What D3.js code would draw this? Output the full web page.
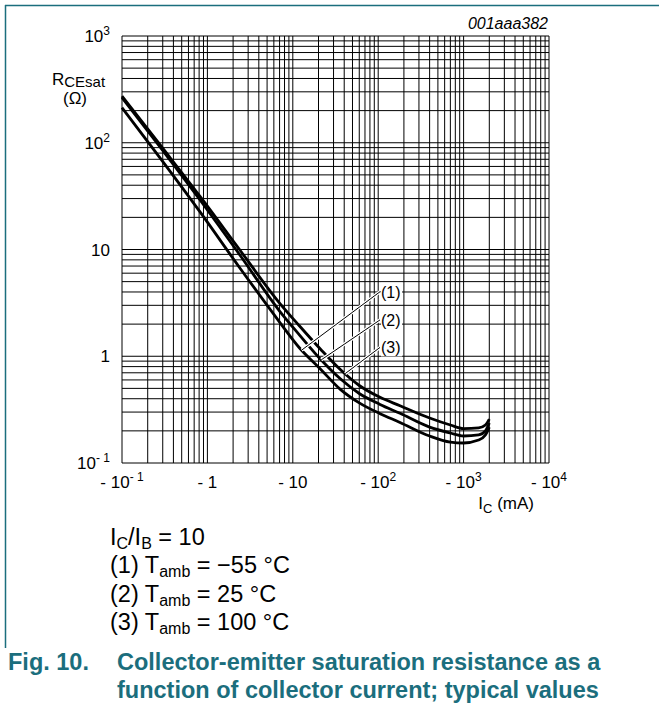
<!DOCTYPE html>
<html><head><meta charset="utf-8">
<script src="https://cdn.jsdelivr.net/npm/d3@7"></script>
<style>body{margin:0;background:#fff} svg{display:block} text{font-family:"Liberation Sans",Arial,sans-serif}</style>
</head><body><svg id="c" width="659" height="713"></svg>
<script>
// ---- data ----
const currents = [0.1, 0.28, 0.82, 2.4, 7, 12, 21, 36, 60, 105, 180, 400, 700, 1000, 1500, 1800, 2000];
const rNeg55 = [213, 71.9, 22.5, 6.71, 2.09, 1.195, 0.76, 0.49, 0.366, 0.29, 0.24, 0.179, 0.157, 0.154, 0.164, 0.183, 0.217];
const r25    = [265, 91.2, 29.1, 8.88, 2.65, 1.58, 0.942, 0.615, 0.448, 0.354, 0.292, 0.217, 0.191, 0.179, 0.183, 0.200, 0.237];
const r100   = [274, 95.3, 31.4, 9.89, 3.15, 1.92, 1.17, 0.750, 0.532, 0.412, 0.344, 0.264, 0.227, 0.210, 0.213, 0.227, 0.258];
const seriesNames = ["(1)", "(2)", "(3)"];
const labelTargetI = [12.7, 21.5, 41];
const labelAnchorI = 105;
const labelAnchorR = [4.02, 2.19, 1.21];
const xTickValues = [0.1, 1, 10, 100, 1000, 10000];
const xTickBase = ["- 10", "- 1", "- 10", "- 10", "- 10", "- 10"];
const xTickExp = ["- 1", "", "", "2", "3", "4"];
const yTickValues = [0.1, 1, 10, 100, 1000];
const yTickBase = ["10", "1", "10", "10", "10"];
const yTickExp = ["- 1", "", "", "2", "3"];
const legendTemps = ["\u221255 \u00B0C", "25 \u00B0C", "100 \u00B0C"];
const captionLines = ["Collector-emitter saturation resistance as a", "function of collector current; typical values"];

// ---- setup ----
const svg = d3.select("#c");
const teal = "#1b6e7d";
const x = d3.scaleLog().domain([0.1, 1e4]).range([122, 549]);
const y = d3.scaleLog().domain([0.1, 1000]).range([463, 36]);

function rich(g, px, py, segs, size, anchor) {
  const t = g.append("text").attr("x", px).attr("y", py).attr("font-size", size).attr("text-anchor", anchor || "start");
  let cur = 0;
  segs.forEach(s => {
    const sh = s.shift || 0;
    const ts = t.append("tspan").attr("dy", sh - cur).text(s.t);
    if (s.size) ts.attr("font-size", s.size);
    cur = sh;
  });
  return t;
}

// page frame
svg.append("line").attr("x1", 5).attr("x2", 659).attr("y1", 5.5).attr("y2", 5.5).attr("stroke", teal).attr("stroke-width", 1.5);
svg.append("line").attr("x1", 5.5).attr("x2", 5.5).attr("y1", 5).attr("y2", 648).attr("stroke", teal).attr("stroke-width", 1.5);

// grid
const xGrid = [], yGrid = [];
for (let e = -1; e <= 3; e++) for (let k = 1; k <= 9; k++) xGrid.push(k * Math.pow(10, e));
xGrid.push(1e4);
for (let e = -1; e <= 2; e++) for (let k = 1; k <= 9; k++) yGrid.push(k * Math.pow(10, e));
yGrid.push(1000);
const grid = svg.append("g").attr("stroke", "#000").attr("stroke-width", 1);
grid.selectAll(".vx").data(xGrid).join("line").attr("x1", d => x(d)).attr("x2", d => x(d)).attr("y1", y(1000)).attr("y2", y(0.1));
grid.selectAll(".hy").data(yGrid).join("line").attr("y1", d => y(d)).attr("y2", d => y(d)).attr("x1", x(0.1)).attr("x2", x(1e4));

// curves
const series = [rNeg55, r25, r100];
const line = d3.line().x(d => x(d[0])).y(d => y(d[1])).curve(d3.curveMonotoneX);
series.forEach(s => {
  svg.append("path").attr("d", line(currents.map((c, i) => [c, s[i]])))
    .attr("fill", "none").attr("stroke", "#000").attr("stroke-width", 2.8).attr("stroke-linejoin", "round");
});

function interpR(s, I) {
  const li = Math.log10(I);
  for (let i = 0; i < currents.length - 1; i++) {
    const a = Math.log10(currents[i]), b = Math.log10(currents[i + 1]);
    if (li >= a && li <= b) {
      const f = (li - a) / (b - a);
      return Math.pow(10, Math.log10(s[i]) + f * (Math.log10(s[i + 1]) - Math.log10(s[i])));
    }
  }
  return s[s.length - 1];
}

// leaders
const lab = svg.append("g");
series.forEach((s, i) => {
  const x1 = x(labelAnchorI), y1 = y(labelAnchorR[i]);
  const x2 = x(labelTargetI[i]), y2 = y(interpR(s, labelTargetI[i]));
  lab.append("line").attr("x1", x1).attr("y1", y1).attr("x2", x2).attr("y2", y2).attr("stroke", "#fff").attr("stroke-width", 3.2);
  lab.append("line").attr("x1", x1).attr("y1", y1).attr("x2", x2).attr("y2", y2).attr("stroke", "#000").attr("stroke-width", 1);
  lab.append("rect").attr("x", x1 + 1).attr("y", y1 - 9).attr("width", 21).attr("height", 18).attr("fill", "#fff");
  lab.append("text").attr("x", x1 + 1).attr("y", y1 + 6).attr("font-size", 16).text(seriesNames[i]);
});

// tick labels
xTickValues.forEach((v, i) => {
  const segs = [{t: xTickBase[i]}];
  if (xTickExp[i]) segs.push({t: xTickExp[i], size: 12, shift: -7});
  rich(svg, x(v), 488, segs, 17, "middle");
});
yTickValues.forEach((v, i) => {
  const segs = [{t: yTickBase[i]}];
  if (yTickExp[i]) segs.push({t: yTickExp[i], size: 12, shift: -7});
  rich(svg, 110, y(v) + 6, segs, 17, "end");
});

// axis titles
rich(svg, 52, 85, [{t: "R"}, {t: "CEsat", size: 15, shift: 2}], 17, "start");
svg.append("text").attr("x", 75).attr("y", 104).attr("font-size", 17).attr("text-anchor", "middle").text("(\u03A9)");
rich(svg, 534, 509, [{t: "I"}, {t: "C", size: 13, shift: 4}, {t: " (mA)"}], 17, "end");
svg.append("text").attr("x", 548).attr("y", 29).attr("font-size", 16).attr("font-style", "italic").attr("text-anchor", "end").text("001aaa382");

// legend text
rich(svg, 110, 545, [{t: "I"}, {t: "C", size: 16, shift: 4}, {t: "/I"}, {t: "B", size: 16, shift: 4}, {t: " = 10"}], 23.5, "start");
legendTemps.forEach((tt, i) => {
  rich(svg, 110, 573 + i * 28.5, [{t: seriesNames[i] + " T"}, {t: "amb", size: 16, shift: 4}, {t: " = " + tt}], 23.5, "start");
});

// caption
svg.append("text").attr("x", 8).attr("y", 670).attr("font-size", 23.5).attr("font-weight", "bold").attr("fill", teal).text("Fig. 10.");
captionLines.forEach((c, i) => {
  svg.append("text").attr("x", 117).attr("y", 670 + i * 28).attr("font-size", 23.5).attr("font-weight", "bold").attr("fill", teal).text(c);
});
</script></body></html>
